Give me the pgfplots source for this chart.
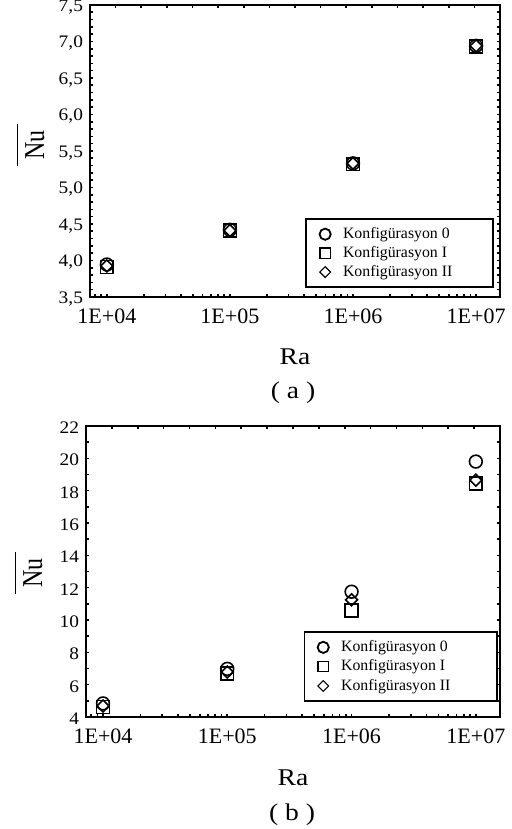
\documentclass[border=0pt]{standalone}
\usepackage{fontspec}
\setmainfont{Liberation Serif}
\usepackage{graphicx}
\usepackage{pgfplots}
\usepackage{pgfplotstable}
\pgfplotsset{compat=1.18}

\pgfplotstableread{
ra c0 c1 c2
1e4 3.945 3.91 3.925
1e5 4.42 4.41 4.41
1e6 5.33 5.32 5.33
1e7 6.94 6.93 6.94
}\dataA

\pgfplotstableread{
ra c0 c1 c2
1e4 4.84 4.62 4.68
1e5 6.98 6.70 6.78
1e6 11.75 10.60 11.25
1e7 19.80 18.45 18.65
}\dataB

\pgfplotsset{
  myBase/.style={
    scale only axis,
    axis line style={line width=1.1pt},
    every tick/.style={black, line width=0.8pt},
    major tick length=1.6pt,
    minor tick length=1.6pt,
    tick align=inside,
  },
  myTop/.style={
    myBase,
    xmin=0, xmax=16, ymin=0, ymax=1,
    xtick={1,...,15},
    ytick=\empty,
    xtick pos=right,
    xticklabels={},
  },
  myLeg/.style={
    legend image code/.code={\path (-6pt,0pt) (6.5pt,0pt);\draw[##1] plot coordinates {(0pt,0pt)};},
  },
  serA/.style={only marks, mark=o, mark size=3.2pt, line width=0.8pt, black, myLeg,
    legend image post style={mark size=2.8pt, line width=0.9pt}},
  serB/.style={only marks, mark=square, mark size=3.2pt, line width=0.8pt, black, myLeg,
    legend image post style={mark size=2.6pt, line width=0.6pt}},
  serC/.style={only marks, mark=square, mark size=2.1pt, line width=0.8pt, black, myLeg,
    mark options={rotate=45},
    legend image post style={mark size=1.9pt, line width=0.6pt}},
}

\begin{document}
\begin{tikzpicture}
\useasboundingbox (0,0) rectangle (255.5pt,-414.5pt);

% ---------- (a) ----------
\begin{axis}[myBase,
  xmode=log,
  xmin=7300, xmax=1.565e7,
  xtick={1e4,1e5,1e6,1e7},
  xticklabels={1E+04,1E+05,1E+06,1E+07},
  minor xtick={8000,9000,20000,30000,40000,50000,60000,70000,80000,90000,200000,300000,400000,500000,600000,700000,800000,900000,2e6,3e6,4e6,5e6,6e6,7e6,8e6,9e6},
  xtick pos=left,
  ytick pos=both,
  xticklabel style={font=\fontsize{11}{12}\selectfont, yshift=-2.5pt},
  yticklabel style={yshift=-1pt},
  legend cell align=left,
  name=axA, at={(45pt,-2.5pt)}, anchor=north west,
  width=205pt, height=146pt,
  ymin=3.5, ymax=7.5,
  ytick={3.5,4,...,7.5}, minor tick num=4,
  yticklabel={\scalebox{1.1}[1]{\fontsize{8.8}{9}\selectfont\pgfmathprintnumber[fixed,fixed zerofill,precision=1,use comma,assume math mode=true]{\tick}}},
  legend style={at={(0.985,0.031)}, anchor=south east,
    draw=black, line width=0.8pt, font=\fontsize{7.9}{9}\selectfont, row sep=-1.6pt},
]
\addplot[serA] table[x=ra, y=c0] {\dataA};
\addlegendentry{\makebox[70pt][l]{Konfigürasyon 0}}
\addplot[serB] table[x=ra, y=c1] {\dataA};
\addlegendentry{\makebox[70pt][l]{Konfigürasyon I}}
\addplot[serC] table[x=ra, y=c2] {\dataA};
\addlegendentry{\makebox[70pt][l]{Konfigürasyon II}}
\end{axis}
\begin{axis}[myTop, at={(45pt,-2.5pt)}, anchor=north west, width=205pt, height=146pt]
\end{axis}

% ---------- (b) ----------
\begin{axis}[myBase,
  xmode=log,
  xmin=7300, xmax=1.565e7,
  xtick={1e4,1e5,1e6,1e7},
  xticklabels={1E+04,1E+05,1E+06,1E+07},
  minor xtick={8000,9000,20000,30000,40000,50000,60000,70000,80000,90000,200000,300000,400000,500000,600000,700000,800000,900000,2e6,3e6,4e6,5e6,6e6,7e6,8e6,9e6},
  xtick pos=left,
  ytick pos=both,
  xticklabel style={font=\fontsize{11}{12}\selectfont, yshift=-2.5pt},
  yticklabel style={yshift=-0.8pt},
  legend cell align=left,
  name=axB, at={(43pt,-213pt)}, anchor=north west,
  width=207pt, height=145.5pt,
  ymin=4, ymax=22,
  ytick={4,6,...,22}, minor tick num=1,
  yticklabel={\scalebox{1.1}[1]{\fontsize{8.8}{9}\selectfont\pgfmathprintnumber[assume math mode=true]{\tick}}},
  legend style={at={(0.995,0.052)}, anchor=south east,
    draw=black, line width=0.8pt, font=\fontsize{7.9}{9}\selectfont, row sep=-1.4pt},
]
\addplot[serA] table[x=ra, y=c0] {\dataB};
\addlegendentry{\makebox[73pt][l]{Konfigürasyon 0}}
\addplot[serB] table[x=ra, y=c1] {\dataB};
\addlegendentry{\makebox[73pt][l]{Konfigürasyon I}}
\addplot[serC] table[x=ra, y=c2] {\dataB};
\addlegendentry{\makebox[73pt][l]{Konfigürasyon II}}
\end{axis}
\begin{axis}[myTop, at={(43pt,-213pt)}, anchor=north west, width=207pt, height=145.5pt]
\end{axis}

% ---------- labels ----------
\node[anchor=center, font=\fontsize{12}{14}\selectfont] at (147.5pt,-178.5pt) {\scalebox{1.15}[1]{Ra}};
\node[anchor=center, font=\fontsize{12}{14}\selectfont] at (146.5pt,-196.5pt) {\scalebox{1.15}[1]{( a )}};
\node[anchor=center, font=\fontsize{12}{14}\selectfont] at (146.5pt,-389pt) {\scalebox{1.15}[1]{Ra}};
\node[anchor=center, font=\fontsize{12}{14}\selectfont] at (146pt,-407.5pt) {\scalebox{1.15}[1]{( b )}};

\node[anchor=center, rotate=90, font=\fontsize{12}{14}\selectfont] at (15pt,-72.5pt)
  {\scalebox{1}[1.2]{$\overline{\mbox{\rule{0pt}{9.8pt}\hspace{3pt}Nu\hspace{3pt}}}$}};
\node[anchor=center, rotate=90, font=\fontsize{12}{14}\selectfont] at (14pt,-286.5pt)
  {\scalebox{1}[1.2]{$\overline{\mbox{\rule{0pt}{9.8pt}\hspace{3pt}Nu\hspace{3pt}}}$}};
\end{tikzpicture}
\end{document}
